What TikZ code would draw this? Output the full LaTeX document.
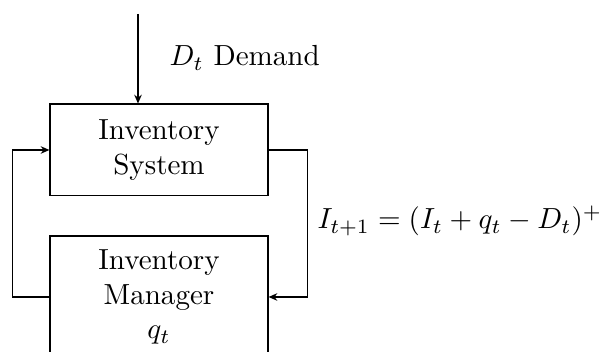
\documentclass[tikz,border=0pt]{standalone}
\usepackage{amsmath}
\usetikzlibrary{arrows.meta, calc}

\begin{document}
\begin{tikzpicture}[x=0.344pt, y=-0.344pt,
    block/.style={draw, thin, align=center, minimum width=75pt},
    flow/.style={-{Stealth[length=3pt, width=2.6pt]}, thin}]
    % --- frame ---
    \clip (0,0) rectangle (604,352);
    % --- blocks ---
    \node[block, minimum height=31.6pt] (sys) at (159,150) {Inventory\\System};
    \node[block, minimum height=42pt] (mgr) at (159,297) {Inventory\\Manager\\$q_t$};
    % --- demand input ---
    \coordinate (dem) at (138,14);
    \draw[flow] (dem) -- (dem |- sys.north);
    \node[anchor=west, inner sep=0pt] (demlbl) at (169,58) {$D_t$ Demand};
    % --- feedback loop ---
    \draw[flow] (mgr.west) -- ++(-37,0) |- (sys.west);
    \draw[flow] (sys.east) -- ++(39,0) |- (mgr.east);
    % --- state update ---
    \node[anchor=west, inner sep=0pt] (upd) at (317,221) {$I_{t+1} = (I_t + q_t - D_t)^+$};
\end{tikzpicture}
\end{document}
